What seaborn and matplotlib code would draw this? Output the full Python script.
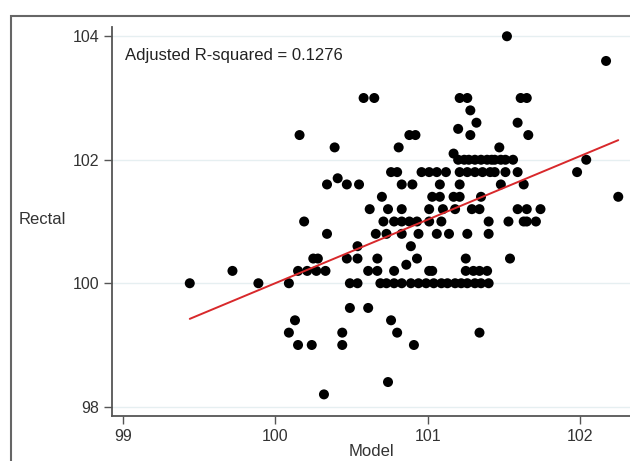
import numpy as np
import pandas as pd
import seaborn as sns
import matplotlib.pyplot as plt
from matplotlib.patches import Rectangle

model = [101.52,
         102.17,
         100.58, 100.65, 101.21, 101.26, 101.61, 101.65,
         101.28,
         101.32, 101.59,
         101.20,
         100.16, 100.88, 100.92, 101.28, 101.66,
         100.39, 100.81, 101.47,
         101.17,
         101.20, 101.24, 101.27, 101.31, 101.35, 101.39, 101.42, 101.44, 101.48, 101.51, 101.56, 102.04,
         100.76, 100.80, 100.96, 101.01, 101.06, 101.12, 101.21, 101.26, 101.31, 101.36, 101.41, 101.44, 101.51, 101.59, 101.98,
         100.41,
         100.34, 100.47, 100.55, 100.83, 100.90, 101.08, 101.21, 101.48, 101.63,
         100.70, 101.03, 101.08, 101.17, 101.21, 101.35, 102.25,
         100.62, 100.74, 100.83, 101.01, 101.10, 101.18, 101.29, 101.34, 101.59, 101.65, 101.74,
         100.19, 100.71, 100.78, 100.83, 100.88, 100.93, 101.01, 101.09, 101.40, 101.53, 101.63, 101.65, 101.71,
         100.34, 100.66, 100.73, 100.83, 100.94, 101.06, 101.14, 101.26, 101.40,
         100.54, 100.89,
         100.25, 100.28, 100.47, 100.54, 100.67, 100.93, 101.25, 101.54,
         100.86,
         99.72, 100.15, 100.21, 100.27, 100.33, 100.61, 100.67, 100.78, 101.01, 101.03, 101.25, 101.30, 101.34, 101.39,
         99.44, 99.89, 100.09, 100.49, 100.54, 100.69, 100.73, 100.78, 100.83, 100.89, 100.94, 100.99, 101.04, 101.09,
         101.13, 101.18, 101.22, 101.26, 101.31, 101.35, 101.40,
         100.49, 100.61,
         100.13, 100.76,
         100.09, 100.44, 100.80, 101.34,
         100.15, 100.24, 100.44, 100.91,
         100.74,
         100.32]

rectal = [104.0,
          103.6,
          103.0, 103.0, 103.0, 103.0, 103.0, 103.0,
          102.8,
          102.6, 102.6,
          102.5,
          102.4, 102.4, 102.4, 102.4, 102.4,
          102.2, 102.2, 102.2,
          102.1,
          102.0, 102.0, 102.0, 102.0, 102.0, 102.0, 102.0, 102.0, 102.0, 102.0, 102.0, 102.0,
          101.8, 101.8, 101.8, 101.8, 101.8, 101.8, 101.8, 101.8, 101.8, 101.8, 101.8, 101.8, 101.8, 101.8, 101.8,
          101.7,
          101.6, 101.6, 101.6, 101.6, 101.6, 101.6, 101.6, 101.6, 101.6,
          101.4, 101.4, 101.4, 101.4, 101.4, 101.4, 101.4,
          101.2, 101.2, 101.2, 101.2, 101.2, 101.2, 101.2, 101.2, 101.2, 101.2, 101.2,
          101.0, 101.0, 101.0, 101.0, 101.0, 101.0, 101.0, 101.0, 101.0, 101.0, 101.0, 101.0, 101.0,
          100.8, 100.8, 100.8, 100.8, 100.8, 100.8, 100.8, 100.8, 100.8,
          100.6, 100.6,
          100.4, 100.4, 100.4, 100.4, 100.4, 100.4, 100.4, 100.4,
          100.3,
          100.2, 100.2, 100.2, 100.2, 100.2, 100.2, 100.2, 100.2, 100.2, 100.2, 100.2, 100.2, 100.2, 100.2,
          100.0, 100.0, 100.0, 100.0, 100.0, 100.0, 100.0, 100.0, 100.0, 100.0, 100.0, 100.0, 100.0, 100.0,
          100.0, 100.0, 100.0, 100.0, 100.0, 100.0, 100.0,
          99.6, 99.6,
          99.4, 99.4,
          99.2, 99.2, 99.2, 99.2,
          99.0, 99.0, 99.0, 99.0,
          98.4,
          98.2]

x_ticks = [99, 100, 101, 102]
y_ticks = [98, 100, 102, 104]
r2_label = "Adjusted R-squared = 0.1276"

df = pd.DataFrame({"Model": model, "Rectal": rectal})

sns.set_theme(style="white")
plt.rcParams["font.family"] = ["Liberation Sans", "DejaVu Sans"]

fig = plt.figure(figsize=(6.3, 4.61), dpi=100)
ax = fig.add_axes([112 / 630, 45 / 461, 518 / 630, 389 / 461])

sns.regplot(data=df, x="Model", y="Rectal", ci=None, ax=ax, color="black",
            scatter_kws=dict(s=52, alpha=1, edgecolor="none"),
            line_kws=dict(color="#d8282b", lw=1.4))

ax.set_xlim(98.93, 102.327)
ax.set_ylim(97.85, 104.15)
ax.set_xticks(x_ticks)
ax.set_yticks(y_ticks)
ax.yaxis.grid(True, color="#e6eff1", lw=1)
ax.set_axisbelow(True)

sns.despine(ax=ax)
for side in ["left", "bottom"]:
    ax.spines[side].set_color("#555555")
    ax.spines[side].set_linewidth(1.3)
ax.tick_params(bottom=True, left=True, direction="out", length=6, width=1,
               color="#555555", labelsize=11.5, labelcolor="#333333", pad=3)

ax.set_xlabel("Model", fontsize=12, color="#333333", labelpad=0.5)
ax.set_ylabel("Rectal", fontsize=12, color="#333333", rotation=0, ha="center", va="center")
ax.yaxis.set_label_coords(-0.135, 0.506)

ax.text(0.025, 0.928, r2_label, transform=ax.transAxes, fontsize=12,
        color="#222222", va="center", ha="left")

# outer frame of the original graph window
fig.add_artist(Rectangle((11 / 630, -0.05), 1.1, (461 - 16) / 461 + 0.05,
                         transform=fig.transFigure, fill=False,
                         edgecolor="#666666", lw=1.5))

fig.savefig("out.png", dpi=100)
